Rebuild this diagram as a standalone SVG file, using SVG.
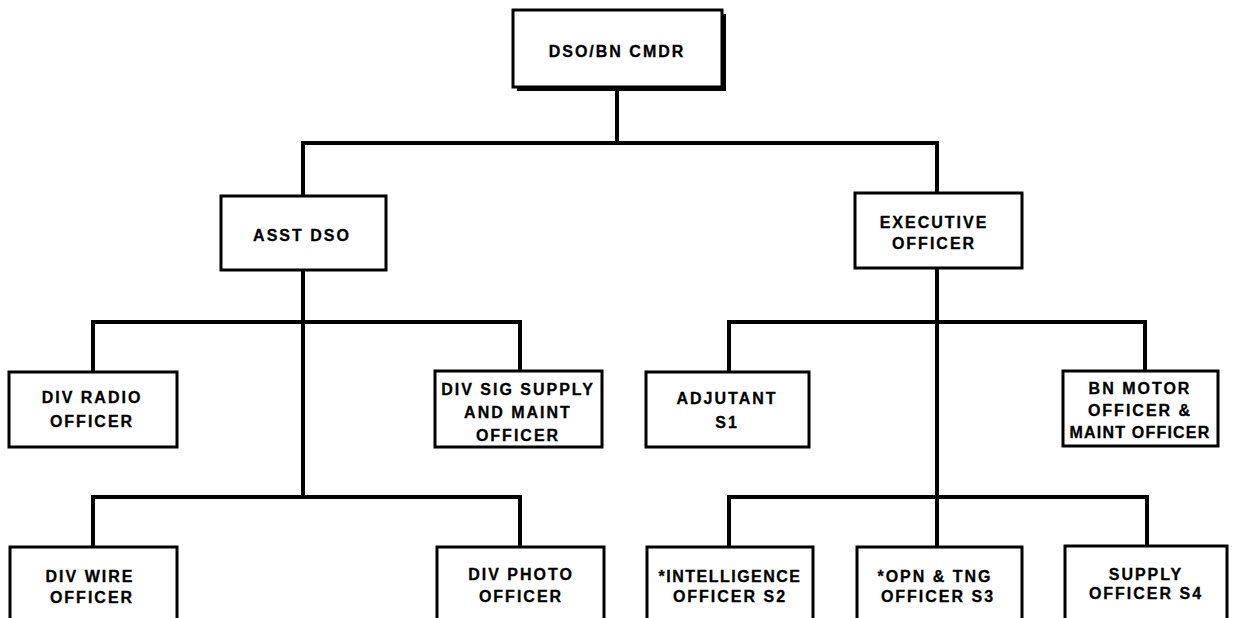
<svg xmlns="http://www.w3.org/2000/svg" width="1233" height="618" viewBox="0 0 1233 618">
<style>
.box{fill:#fff;stroke:#000;stroke-width:3}
.conn{fill:none;stroke:#000;stroke-width:4;stroke-linejoin:miter;stroke-linecap:square}
text{font-family:"Liberation Sans",Arial,sans-serif;font-weight:bold;font-size:16px;letter-spacing:2px;text-anchor:middle;fill:#000;stroke:#000;stroke-width:0.3}
</style>
<rect width="1233" height="618" fill="#fff"/>
<g id="connectors">
<path class="conn" d="M617 87V143M303 143H937M303 143V196M937 143V193"/>
<path class="conn" d="M303 270V497M93 372V322H520V371M93 547V497H520V547"/>
<path class="conn" d="M937 268V547M729 372V322H1145V371M729 547V497H1147V546"/>
</g>
<g id="cmdr">
<rect x="517" y="14" width="209" height="77" fill="#000"/>
<rect class="box" x="513" y="10" width="209" height="77"/>
<text x="617" y="57">DSO/BN CMDR</text>
</g>
<g id="asst">
<rect class="box" x="221" y="196" width="165" height="74"/>
<text x="302" y="241">ASST DSO</text>
</g>
<g id="exec">
<rect class="box" x="855" y="193" width="167" height="75"/>
<text x="934" y="228">EXECUTIVE</text>
<text x="934" y="249">OFFICER</text>
</g>
<g id="radio">
<rect class="box" x="9" y="372" width="168" height="75"/>
<text x="92" y="403">DIV  RADIO</text>
<text x="92" y="427">OFFICER</text>
</g>
<g id="sigsupply">
<rect class="box" x="435" y="371" width="167" height="76"/>
<text x="518" y="395">DIV SIG SUPPLY</text>
<text x="518" y="418">AND MAINT</text>
<text x="518" y="441">OFFICER</text>
</g>
<g id="adjutant">
<rect class="box" x="646" y="372" width="163" height="75"/>
<text x="727" y="404">ADJUTANT</text>
<text x="727" y="428">S1</text>
</g>
<g id="bnmotor">
<rect class="box" x="1063" y="371" width="155" height="75"/>
<text x="1140" y="394">BN MOTOR</text>
<text x="1140" y="416">OFFICER &amp;</text>
<text x="1140" y="438" style="letter-spacing:1.2px">MAINT OFFICER</text>
</g>
<g id="wire">
<rect class="box" x="10" y="547" width="167" height="80"/>
<text x="90" y="582">DIV  WIRE</text>
<text x="92" y="603">OFFICER</text>
</g>
<g id="photo">
<rect class="box" x="437" y="547" width="167" height="80"/>
<text x="521" y="580">DIV PHOTO</text>
<text x="521" y="602">OFFICER</text>
</g>
<g id="intel">
<rect class="box" x="647" y="547" width="166" height="80"/>
<text x="730" y="582" style="letter-spacing:1.5px">*INTELLIGENCE</text>
<text x="730" y="602">OFFICER S2</text>
</g>
<g id="opn">
<rect class="box" x="857" y="547" width="165" height="80"/>
<text x="935" y="582">*OPN  &amp;  TNG</text>
<text x="938" y="602">OFFICER S3</text>
</g>
<g id="supply">
<rect class="box" x="1065" y="546" width="162" height="80"/>
<text x="1146" y="580">SUPPLY</text>
<text x="1146" y="599">OFFICER S4</text>
</g>
</svg>
